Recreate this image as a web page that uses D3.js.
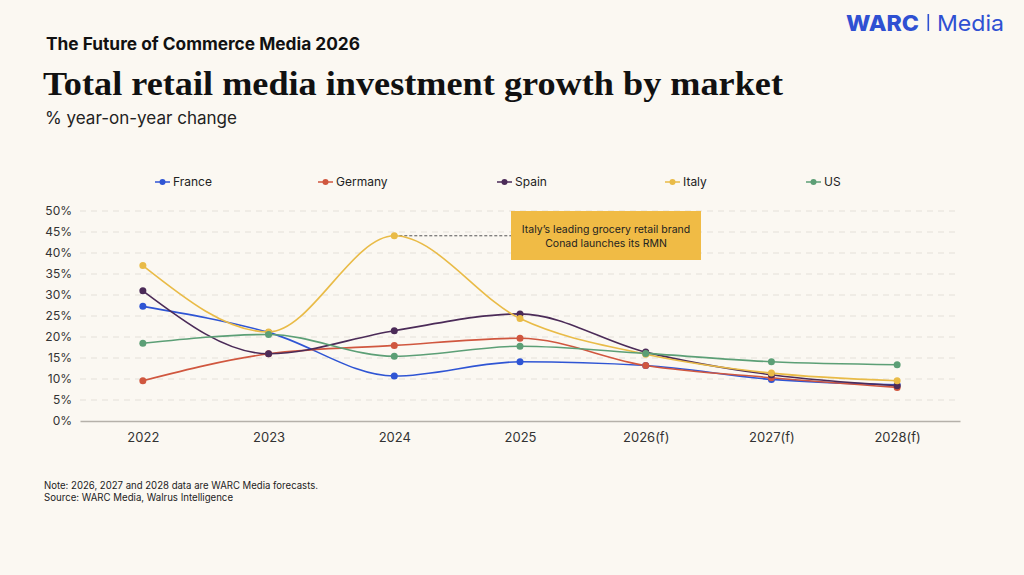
<!DOCTYPE html>
<html><head><meta charset="utf-8">
<script src="https://cdn.jsdelivr.net/npm/d3@7"></script>
<style>
html,body{margin:0;padding:0;background:#fbf8f2;}
svg{display:block;font-family:Inter, "Noto Sans", sans-serif;}
</style></head>
<body>
<svg id="c" width="1024" height="575"></svg>
<script>
const years = ["2022","2023","2024","2025","2026(f)","2027(f)","2028(f)"];
const france  = [27.3, 21.1, 10.7, 14.1, 13.2, 9.9, 8.6];
const germany = [9.6, 16.0, 18.0, 19.7, 13.2, 10.3, 8.0];
const spain   = [31.0, 16.0, 21.5, 25.5, 16.4, 11.0, 8.4];
const italy   = [37.0, 21.2, 44.1, 24.4, 15.9, 11.4, 9.6];
const us      = [18.5, 20.6, 15.4, 17.8, 16.1, 14.1, 13.4];
const seriesNames = ["France","Germany","Spain","Italy","US"];
const yTicks = [0,5,10,15,20,25,30,35,40,45,50];
const annotationLines = ["Italy’s leading grocery retail brand","Conad launches its RMN"];

const colors = {France:"#2f55d4",Germany:"#d0573f",Spain:"#4b2b58",Italy:"#e9bb47",US:"#5c9f76"};
const series = [
  {name:"France",values:france},
  {name:"Germany",values:germany},
  {name:"Spain",values:spain},
  {name:"Italy",values:italy},
  {name:"US",values:us}
];

const svg = d3.select("#c");
svg.append("rect").attr("width",1024).attr("height",575).attr("fill","#fbf8f2");

// header brand
svg.append("text").attr("x",846).attr("y",31).attr("fill","#2f50d2").attr("font-size",22)
  .attr("font-weight",800).attr("textLength",73).attr("lengthAdjust","spacingAndGlyphs").text("WARC");
svg.append("rect").attr("x",927.5).attr("y",14).attr("width",1.6).attr("height",17).attr("fill","#2f50d2");
svg.append("text").attr("x",937).attr("y",31).attr("fill","#2f50d2")
  .attr("font-size",22).attr("font-weight",400).attr("textLength",67).attr("lengthAdjust","spacingAndGlyphs").text("Media");

svg.append("text").attr("x",46).attr("y",50).attr("font-size",17).attr("font-weight",700)
  .attr("fill","#111").attr("textLength",314).attr("lengthAdjust","spacingAndGlyphs")
  .text("The Future of Commerce Media 2026");
svg.append("text").attr("x",43).attr("y",95).attr("font-family","'Liberation Serif', 'DejaVu Serif', serif")
  .attr("font-size",33).attr("font-weight",700).attr("fill","#111")
  .attr("textLength",740).attr("lengthAdjust","spacingAndGlyphs")
  .text("Total retail media investment growth by market");
svg.append("text").attr("x",45).attr("y",124).attr("font-size",17).attr("fill","#222")
  .attr("textLength",192).attr("lengthAdjust","spacingAndGlyphs")
  .text("% year-on-year change");

// scales
const x = d3.scalePoint().domain(years).range([80,960]).padding(0.5);
const y = d3.scaleLinear().domain([0,50]).range([421,211]);

// grid
const grid = svg.append("g");
grid.selectAll("line").data(yTicks.filter(d=>d>0)).join("line")
  .attr("x1",80).attr("x2",960).attr("y1",d=>y(d)).attr("y2",d=>y(d))
  .attr("stroke","#e4e0d9").attr("stroke-width",1).attr("stroke-dasharray","6,5");

// y axis
const yAxis = svg.append("g").attr("transform","translate(72,0)")
  .call(d3.axisLeft(y).tickValues(yTicks).tickFormat(d=>d+"%").tickSize(0).tickPadding(0));
yAxis.select(".domain").remove();
yAxis.selectAll("text").attr("font-size",12).attr("fill","#333").attr("font-family","Inter, sans-serif");

// x axis
const xAxis = svg.append("g").attr("transform","translate(0,421)")
  .call(d3.axisBottom(x).tickSize(0).tickPadding(12));
xAxis.select(".domain").attr("stroke","#b5b1aa").attr("stroke-width",1.5);
xAxis.selectAll("text").attr("font-size",13).attr("fill","#333").attr("font-family","Inter, sans-serif");

// annotation
const ax = x("2024"), ay = y(italy[2]);
svg.append("line").attr("x1",ax).attr("x2",511).attr("y1",ay).attr("y2",ay)
  .attr("stroke","#555").attr("stroke-width",1).attr("stroke-dasharray","3,2");
svg.append("rect").attr("x",511).attr("y",211).attr("width",190).attr("height",49).attr("fill","#f0bb45");
svg.append("text").attr("text-anchor","middle").attr("font-size",10.5).attr("fill","#222")
  .selectAll("tspan").data(annotationLines).join("tspan")
  .attr("x",606).attr("y",(d,i)=>233+i*14).text(d=>d);

// lines
const line = d3.line().x((d,i)=>x(years[i])).y(d=>y(d)).curve(d3.curveMonotoneX);
const gl = svg.append("g");
series.forEach(s=>{
  gl.append("path").attr("d",line(s.values)).attr("fill","none")
    .attr("stroke",colors[s.name]).attr("stroke-width",1.6);
});
series.forEach(s=>{
  gl.selectAll(null).data(s.values).join("circle")
    .attr("cx",(d,i)=>x(years[i])).attr("cy",d=>y(d)).attr("r",3.5).attr("fill",colors[s.name]);
});

// legend
const legendX = [155,318,497,665,806];
const lg = svg.append("g");
series.forEach((s,i)=>{
  const g = lg.append("g").attr("transform",`translate(${legendX[i]},182)`);
  g.append("line").attr("x1",0).attr("x2",15).attr("stroke",colors[s.name]).attr("stroke-width",1.5);
  g.append("circle").attr("cx",7.5).attr("r",3).attr("fill",colors[s.name]);
  g.append("text").attr("x",18).attr("y",4).attr("font-size",12).attr("fill","#222").text(s.name);
});

// footer
svg.append("text").attr("x",44).attr("y",489).attr("font-size",10).attr("fill","#222")
  .attr("textLength",274).attr("lengthAdjust","spacingAndGlyphs")
  .text("Note: 2026, 2027 and 2028 data are WARC Media forecasts.");
svg.append("text").attr("x",44).attr("y",501).attr("font-size",10).attr("fill","#222")
  .attr("textLength",189).attr("lengthAdjust","spacingAndGlyphs")
  .text("Source: WARC Media, Walrus Intelligence");
</script>
</body></html>
